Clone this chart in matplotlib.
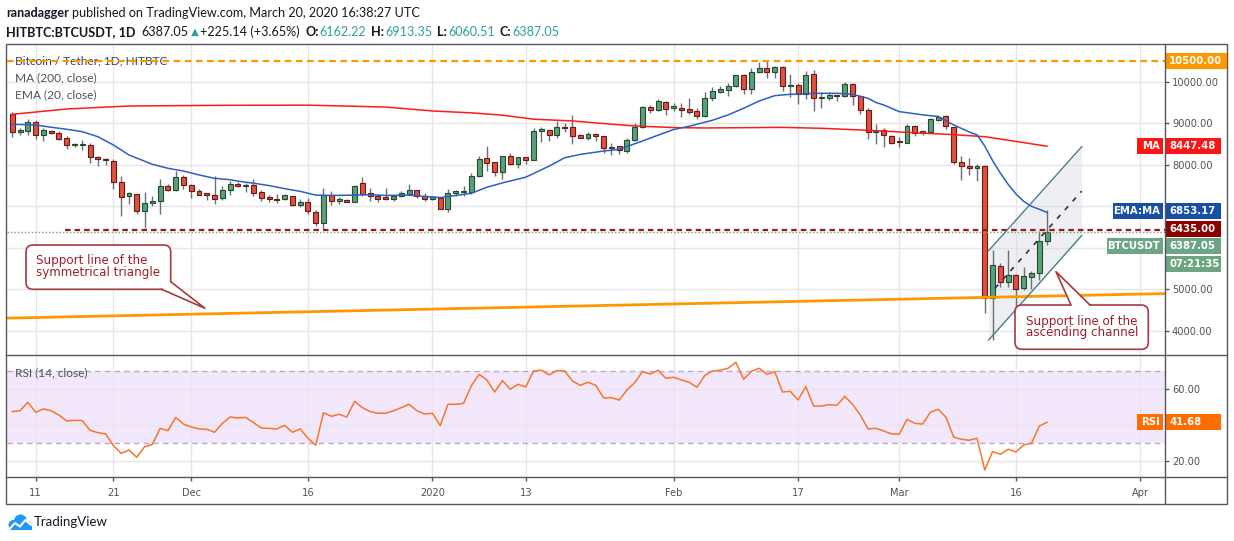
import numpy as np
import pandas as pd
import matplotlib
matplotlib.use("Agg")
import matplotlib.pyplot as plt
import matplotlib.dates as mdates
from matplotlib.patches import Rectangle, FancyBboxPatch, Polygon, Circle

W, H = 1234, 541

# daily candles, Nov 8 2019 .. Mar 20 2020
dates = pd.date_range("2019-11-08", "2020-03-20", freq="D")
opens = [9218, 8800, 8806, 9032, 8726, 8806, 8774, 8645, 8476, 8484,
         8484, 8185, 8137, 8081, 7597, 7258, 7306, 6895, 7089, 7137,
         7500, 7395, 7718, 7524, 7379, 7290, 7282, 7190, 7385, 7533,
         7484, 7516, 7336, 7213, 7188, 7188, 7238, 7041, 7115, 6869,
         6598, 7262, 7139, 7164, 7115, 7557, 7311, 7246, 7190, 7188,
         7238, 7303, 7385, 7246, 7188, 7201, 6943, 7331, 7339, 7339,
         7734, 8153, 8056, 7815, 8202, 8008, 8177, 8105, 8823, 8839,
         8710, 8911, 8911, 8718, 8653, 8742, 8685, 8403, 8444, 8331,
         8589, 8911, 9395, 9315, 9516, 9376, 9376, 9344, 9296, 9184,
         9600, 9760, 9808, 9888, 10160, 9832, 10224, 10320, 10224, 10352,
         9904, 9912, 9696, 10176, 9600, 9600, 9688, 9648, 9936, 9648,
         9312, 8784, 8832, 8688, 8556, 8532, 8935, 8774, 8782, 9081,
         9185, 8903, 8056, 7968, 7919, 7968, 4790, 5565, 5169, 5355,
         5024, 5306, 5395, 6162.22]
highs = [9274, 8880, 9113, 9080, 8887, 8839, 8823, 8694, 8532, 8597,
         8532, 8210, 8161, 8129, 7726, 7339, 7306, 7355, 7242, 7661,
         7548, 7847, 7750, 7540, 7419, 7298, 7742, 7484, 7615, 7574,
         7557, 7664, 7393, 7270, 7287, 7287, 7254, 7180, 7205, 6918,
         7443, 7369, 7229, 7172, 7516, 7697, 7434, 7303, 7434, 7270,
         7369, 7541, 7393, 7311, 7238, 7226, 7419, 7387, 7484, 7798,
         8210, 8452, 8056, 8202, 8290, 8177, 8177, 8887, 8911, 8839,
         9056, 9000, 9210, 8734, 8798, 8774, 8702, 8524, 8460, 8653,
         9008, 9411, 9444, 9581, 9540, 9488, 9488, 9616, 9376, 9752,
         9872, 9896, 9968, 10160, 10176, 10336, 10472, 10496, 10376, 10376,
         10192, 9968, 10256, 10272, 9744, 9744, 9688, 9984, 9976, 9648,
         9360, 8976, 8896, 8720, 8661, 8984, 8952, 8839, 9121, 9202,
         9202, 8903, 8210, 8161, 8008, 7992, 5952, 5645, 5960, 5371,
         5548, 5452, 6395, 6913.35]
lows = [8677, 8710, 8726, 8613, 8565, 8742, 8597, 8387, 8435, 8347,
        8048, 7976, 8000, 7419, 6774, 7056, 6822, 6476, 6999, 6806,
        7379, 7379, 7419, 7202, 7266, 7161, 7064, 7161, 7270, 7467,
        7352, 7246, 7123, 7106, 7082, 7156, 7016, 6984, 6811, 6533,
        6443, 7041, 7057, 7098, 7098, 7238, 7123, 7106, 7156, 7123,
        7221, 7270, 7205, 7139, 7156, 6927, 6871, 7250, 7250, 7298,
        7710, 7847, 7726, 7661, 7992, 7911, 8024, 8105, 8556, 8573,
        8653, 8798, 8492, 8637, 8589, 8573, 8290, 8226, 8266, 8282,
        8573, 8895, 9250, 9298, 9194, 9296, 9160, 9216, 9096, 9160,
        9536, 9728, 9664, 9872, 9712, 9712, 10208, 10080, 10096, 9776,
        9632, 9456, 9576, 9296, 9376, 9552, 9536, 9632, 9440, 9232,
        8624, 8512, 8440, 8496, 8435, 8516, 8694, 8718, 8774, 9065,
        8855, 8008, 7645, 7750, 7613, 4427, 3782, 5048, 5048, 4443,
        4984, 5008, 5234, 6060.51]
closes = [8782, 8812, 9032, 8726, 8839, 8758, 8629, 8468, 8484, 8492,
          8177, 8129, 8105, 7597, 7234, 7315, 6895, 7081, 7137, 7500,
          7395, 7718, 7516, 7379, 7282, 7282, 7185, 7385, 7533, 7484,
          7508, 7328, 7205, 7180, 7156, 7270, 7041, 7098, 6893, 6598,
          7262, 7139, 7188, 7115, 7484, 7303, 7246, 7188, 7185, 7238,
          7311, 7393, 7246, 7188, 7200, 6943, 7323, 7339, 7345, 7742,
          8129, 8048, 7815, 8202, 8008, 8177, 8105, 8815, 8831, 8726,
          8911, 8887, 8685, 8653, 8742, 8685, 8411, 8411, 8347, 8589,
          8911, 9395, 9315, 9524, 9331, 9384, 9328, 9280, 9184, 9600,
          9768, 9824, 9896, 10160, 9832, 10224, 10320, 10224, 10352, 9904,
          9912, 9696, 10160, 9600, 9608, 9672, 9648, 9936, 9648, 9312,
          8784, 8800, 8712, 8520, 8546, 8935, 8758, 8782, 9105, 9161,
          8935, 8056, 7968, 7919, 7968, 4790, 5597, 5169, 5355, 5008,
          5331, 5395, 6177, 6387.05]
rsi = [47.6, 48.1, 52.8, 47.2, 49.1, 48.1, 45.7, 42.4, 42.8, 42.6,
       37.2, 35.9, 35.2, 28.7, 24.4, 26.3, 22.2, 28.1, 29.4, 38.3,
       37.0, 44.4, 40.7, 39.1, 38.0, 37.8, 36.1, 41.1, 44.6, 44.1,
       44.4, 41.5, 38.5, 38.3, 38.0, 40.0, 36.1, 38.0, 32.8, 28.9,
       47.0, 45.0, 46.1, 44.6, 53.3, 49.8, 47.6, 46.7, 46.7, 48.1,
       49.8, 51.7, 48.1, 46.3, 46.7, 39.8, 51.7, 51.7, 52.2, 61.9,
       68.3, 65.2, 58.5, 64.8, 60.0, 62.8, 61.3, 70.2, 70.6, 68.0,
       70.4, 70.2, 64.6, 62.2, 63.9, 62.2, 55.2, 55.4, 54.0, 59.6,
       63.7, 69.8, 68.5, 70.6, 66.1, 66.7, 65.2, 63.9, 61.1, 67.6,
       70.2, 70.6, 71.7, 75.0, 65.6, 70.0, 71.7, 68.3, 69.8, 58.5,
       58.9, 54.1, 61.5, 50.7, 50.7, 51.5, 51.1, 56.1, 51.7, 45.7,
       38.0, 38.3, 36.9, 35.2, 35.0, 43.3, 41.1, 40.7, 47.2, 48.9,
       44.6, 33.5, 32.2, 31.7, 32.8, 15.2, 25.4, 23.9, 26.7, 25.2,
       29.1, 30.0, 39.6, 41.68]

# MA(200) and EMA(20)
ma_dates = ["2019-11-08", "2019-11-15", "2019-11-23", "2019-12-06", "2019-12-16",
            "2019-12-26", "2020-01-01", "2020-01-06", "2020-01-10", "2020-01-14",
            "2020-01-19", "2020-01-23", "2020-01-27", "2020-02-01", "2020-02-05",
            "2020-02-15", "2020-02-20", "2020-02-26", "2020-03-01", "2020-03-08",
            "2020-03-12", "2020-03-20"]
ma_vals = [9215, 9343, 9415, 9432, 9435, 9390, 9295, 9250, 9194, 9097,
           9056, 8992, 8935, 8895, 8886, 8900, 8878, 8830, 8790, 8725,
           8676, 8447.48]
ema_dates = ["2019-11-08", "2019-11-11", "2019-11-13", "2019-11-15", "2019-11-17",
             "2019-11-19", "2019-11-21", "2019-11-23", "2019-11-26", "2019-11-28",
             "2019-11-30", "2019-12-02", "2019-12-04", "2019-12-06", "2019-12-07",
             "2019-12-09", "2019-12-11", "2019-12-13", "2019-12-15", "2019-12-17",
             "2019-12-19", "2019-12-22", "2019-12-24", "2019-12-26", "2019-12-29",
             "2019-12-31", "2020-01-02", "2020-01-03", "2020-01-06", "2020-01-08",
             "2020-01-10", "2020-01-13", "2020-01-16", "2020-01-18", "2020-01-20",
             "2020-01-23", "2020-01-25", "2020-01-28", "2020-01-30", "2020-02-01",
             "2020-02-03", "2020-02-06", "2020-02-08", "2020-02-10", "2020-02-12",
             "2020-02-14", "2020-02-16", "2020-02-19", "2020-02-22", "2020-02-24",
             "2020-02-26", "2020-02-27", "2020-02-28", "2020-03-01", "2020-03-04",
             "2020-03-06", "2020-03-08", "2020-03-10", "2020-03-11", "2020-03-12",
             "2020-03-13", "2020-03-14", "2020-03-15", "2020-03-16", "2020-03-17",
             "2020-03-18", "2020-03-19", "2020-03-20"]
ema_vals = [8975, 8958, 8903, 8854, 8797, 8676, 8476, 8236, 8012, 7916,
            7850, 7755, 7675, 7641, 7607, 7557, 7500, 7426, 7361, 7270,
            7262, 7270, 7279, 7262, 7270, 7238, 7213, 7236, 7314, 7460,
            7564, 7702, 7968, 8169, 8250, 8331, 8371, 8573, 8712, 8848,
            8928, 9072, 9200, 9360, 9536, 9664, 9696, 9720, 9720, 9696,
            9600, 9500, 9440, 9280, 9202, 9161, 8960, 8790, 8720, 8450,
            8100, 7800, 7530, 7300, 7120, 7000, 6930, 6853.17]

# drawings
resistance = 10500
level_6435 = 6435
last_price = 6387.05
support_dates = ["2019-11-07 10:00", "2020-04-04 02:00"]
support_vals = [4310, 4900]
channel_dates = ["2020-03-12 12:00", "2020-03-24 11:00"]
channel_low = [3782, 6298]
channel_high = [5935, 8435]

tick_dates = ["2019-11-11", "2019-11-21", "2019-12-01", "2019-12-16", "2020-01-01",
              "2020-01-13", "2020-02-01", "2020-02-17", "2020-03-01", "2020-03-16",
              "2020-04-01"]
tick_labels = ["11", "21", "Dec", "16", "2020", "13", "Feb", "17", "Mar", "16", "Apr"]
price_ticks = [4000, 5000, 6000, 7000, 8000, 9000, 10000]
price_hidden = [6000, 7000]   # covered by the price tags on the chart
rsi_ticks = [20, 40, 60]
rsi_hidden = [40]

UP, UP_EDGE = "#5c9f7b", "#1f4d2e"
DN, DN_EDGE = "#e0503f", "#6a1a14"
WICK = "#6b6e78"
GRID = "#e6e6e6"
AXTXT = "#4c525e"
FRAME = "#55575f"
TEAL = "#2fa295"
AXFONT = "DejaVu Sans"
TXFONT = ["Lato", "DejaVu Sans"]


def P(x, y):
    return x / W, 1 - y / H


fig = plt.figure(figsize=(W / 100, H / 100), dpi=100)
fig.patch.set_facecolor("white")

x0 = mdates.date2num(dates[0]) - 0.68
x1 = x0 + (1165 - 7) / 7.78
tx = mdates.date2num(pd.to_datetime(tick_dates))

ax = fig.add_axes([7 / W, (H - 355) / H, 1158 / W, (355 - 44) / H])
ax_r = fig.add_axes([7 / W, (H - 477) / H, 1158 / W, (477 - 355) / H])

for a in (ax, ax_r):
    for s in a.spines.values():
        s.set_visible(False)
    a.set_xlim(x0, x1)
    a.set_xticks(tx)
    a.grid(True, color=GRID, lw=1, zorder=0)
    a.set_axisbelow(True)

ax.set_ylim(3422, 10907)
ax.set_xticklabels([])
ax.tick_params(axis="x", length=0)
ax.yaxis.tick_right()
ax.set_yticks(price_ticks)
ax.set_yticklabels(["" if v in price_hidden else "%.2f" % v for v in price_ticks],
                   fontfamily=AXFONT, fontsize=7.1, color=AXTXT)
ax.tick_params(axis="y", length=3, width=1, color=FRAME, pad=2)

ax_r.set_ylim(11.28, 79.06)
ax_r.yaxis.tick_right()
ax_r.set_yticks(rsi_ticks)
ax_r.set_yticklabels(["" if v in rsi_hidden else "%.2f" % v for v in rsi_ticks],
                     fontfamily=AXFONT, fontsize=7.1, color=AXTXT)
ax_r.tick_params(axis="y", length=3, width=1, color=FRAME, pad=2)
ax_r.set_xticklabels(tick_labels, fontfamily=AXFONT, fontsize=7.1, color=AXTXT)
ax_r.tick_params(axis="x", length=3, width=1, color=FRAME, pad=5)

# candles
xd = mdates.date2num(dates)
o, h, l, c = map(np.array, (opens, highs, lows, closes))
up = c >= o
ax.vlines(xd, l, h, color=WICK, lw=1, zorder=3)
lo = np.minimum(o, c)
bh = np.maximum(np.abs(c - o), 28)
ax.bar(xd[up], bh[up], bottom=lo[up], width=0.64, color=UP, edgecolor=UP_EDGE, lw=0.8, zorder=4)
ax.bar(xd[~up], bh[~up], bottom=lo[~up], width=0.64, color=DN, edgecolor=DN_EDGE, lw=0.8, zorder=4)

ax.plot(mdates.date2num(pd.to_datetime(ma_dates)), ma_vals, color="#ff1a1a", lw=1.1, zorder=5)
ax.plot(mdates.date2num(pd.to_datetime(ema_dates)), ema_vals, color="#2d5fbf", lw=1.1, zorder=5)

# horizontal levels
ax.axhline(resistance, color="#ff9800", lw=1.6, dashes=(3, 2), zorder=6)
ax.axhline(last_price, color="#6ba583", lw=1, dashes=(1, 1.5), zorder=5)
lv_x0 = mdates.date2num(pd.Timestamp("2019-11-14 18:00"))
ax.hlines(level_6435, lv_x0, x1, color="#9b1b1b", lw=1.6, linestyles=(0, (2.5, 1.8)), zorder=6)

# support line of the triangle
ax.plot(mdates.date2num(pd.to_datetime(support_dates)), support_vals, color="#ff9800", lw=2, zorder=6)

# ascending channel
cx = mdates.date2num(pd.to_datetime(channel_dates))
ax.fill_between(cx, channel_low, channel_high, color="#d8dde6", alpha=0.45, lw=0, zorder=2)
ax.plot(cx, channel_low, color="#4d7e84", lw=1, zorder=6)
ax.plot(cx, channel_high, color="#4d7e84", lw=1, zorder=6)
mid = [(a + b) / 2 for a, b in zip(channel_low, channel_high)]
mx0 = cx[0] + 0.8
mid0 = mid[0] + (mid[1] - mid[0]) * 0.8 / (cx[1] - cx[0])
ax.plot([mx0, cx[1]], [mid0, mid[1]], color="#333333", lw=1.2, dashes=(3, 4), zorder=6)

# RSI
ax_r.axhspan(30, 70, color="#f3e7fc", lw=0, zorder=0.5)
for v in (30, 70):
    ax_r.axhline(v, color="#b8aac8", lw=1, dashes=(4, 3), zorder=1)
ax_r.plot(xd, rsi, color="#f7762a", lw=1.1, zorder=4)

# legend texts
ax.text(*P(15, 61), "Bitcoin / Tether, 1D, HITBTC", transform=fig.transFigure, family=TXFONT,
        fontsize=8.6, color="#3f434c", va="center", zorder=1)
ax.text(*P(15, 78), "MA (200, close)", transform=fig.transFigure, family=TXFONT,
        fontsize=8.6, color=AXTXT, va="center", zorder=1)
ax.text(*P(15, 95), "EMA (20, close)", transform=fig.transFigure, family=TXFONT,
        fontsize=8.6, color=AXTXT, va="center", zorder=1)
ax_r.text(*P(15, 373), "RSI (14, close)", transform=fig.transFigure, family=TXFONT,
          fontsize=8.6, color=AXTXT, va="center", zorder=1)

# overlay in pixel coordinates: frame, tags, callouts, header, logo
ov = fig.add_axes([0, 0, 1, 1], zorder=10)
ov.set_xlim(0, W)
ov.set_ylim(H, 0)
ov.axis("off")

ov.add_patch(Rectangle((6, 44), 1221, 460, fill=False, ec=FRAME, lw=1))
ov.plot([1165, 1165], [44, 504], color=FRAME, lw=1)
ov.plot([6, 1227], [355, 355], color=FRAME, lw=1)
ov.plot([6, 1227], [477, 477], color=FRAME, lw=1)


def ypx(a, val):
    return H - a.transData.transform((x0, val))[1]


def tag(y, text, color, left=None, x_right=1221):
    ov.add_patch(Rectangle((1165, y - 8), x_right - 1165, 16, color=color, lw=0))
    ov.text(1169, y, text, color="white", fontsize=7.3, family=AXFONT,
            fontweight="bold", va="center", ha="left")
    if left is not None:
        lw_ = left[1]
        ov.add_patch(Rectangle((1163 - lw_, y - 8), lw_, 16, color=color, lw=0))
        ov.text(1160, y, left[0], color="white", fontsize=7.3, family=AXFONT,
                fontweight="bold", va="center", ha="right")


tag(ypx(ax, resistance), "10500.00", "#ff9800", x_right=1227)
tag(ypx(ax, ma_vals[-1]), "%.2f" % ma_vals[-1], "#ff1414", left=("MA", 26))
tag(ypx(ax, ema_vals[-1]) - 1, "%.2f" % ema_vals[-1], "#174ea6", left=("EMA:MA", 50))
tag(ypx(ax, level_6435) - 1, "%.2f" % level_6435, "#8b0000")
y_last = ypx(ax, last_price) + 14.5
tag(y_last, "%.2f" % last_price, "#6ba583", left=("BTCUSDT", 56))
tag(y_last + 18, "07:21:35", "#6ba583")
tag(ypx(ax_r, rsi[-1]), "%.2f" % rsi[-1], "#ff6d00", left=("RSI", 26))

# callouts
CE, CT = "#a53a40", "#9c1f28"
ov.add_patch(FancyBboxPatch((26, 245), 144.7, 44.3, boxstyle="round,pad=0,rounding_size=7",
                            fc="white", ec=CE, lw=1.2, zorder=3))
ov.add_patch(Polygon([(161.7, 289.3), (205, 308.3), (170.7, 281.7)], closed=True,
                     fc="white", ec="none", zorder=4))
ov.plot([161.7, 205, 170.7], [289.3, 308.3, 281.7], color=CE, lw=1.2, zorder=5)
ov.text(36, 260.5, "Support line of the", color=CT, fontsize=8.6, family=AXFONT, va="center", zorder=6)
ov.text(36, 272.5, "symmetrical triangle", color=CT, fontsize=8.6, family=AXFONT, va="center", zorder=6)

ov.add_patch(FancyBboxPatch((1015, 305), 133.3, 44.3, boxstyle="round,pad=0,rounding_size=7",
                            fc="white", ec=CE, lw=1.2, zorder=3))
ov.add_patch(Polygon([(1071, 306), (1056, 271.7), (1090, 306)], closed=True,
                     fc="white", ec="none", zorder=4))
ov.plot([1071, 1056, 1090], [305, 271.7, 305], color=CE, lw=1.2, zorder=5)
ov.text(1026, 321, "Support line of the", color=CT, fontsize=8.6, family=AXFONT, va="center", zorder=6)
ov.text(1026, 332.5, "ascending channel", color=CT, fontsize=8.6, family=AXFONT, va="center", zorder=6)

# header, pieces placed one after another using their measured widths
renderer = fig.canvas.get_renderer()


def chain(x, y, pieces):
    for text, color, weight, fam, size, gap in pieces:
        t = ov.text(x, y, text, family=fam, fontsize=size, fontweight=weight, color=color, va="center")
        x += t.get_window_extent(renderer=renderer).width + gap


HS = 9.1
DARK = "#131722"
chain(6, 13, [("ranadagger", DARK, "bold", TXFONT, HS, 3),
              ("published on TradingView.com, March 20, 2020 16:38:27 UTC", DARK, "normal", TXFONT, HS, 0)])
line2 = [("HITBTC:BTCUSDT, 1D", DARK, "bold", TXFONT, HS, 6),
         ("%.2f" % closes[-1], DARK, "normal", TXFONT, HS, 2),
         ("\u25B2", TEAL, "normal", "DejaVu Sans", 7.5, 2),
         ("+225.14 (+3.65%)", DARK, "normal", TXFONT, HS, 5)]
for lab, val in [("O:", opens[-1]), ("H:", highs[-1]), ("L:", lows[-1]), ("C:", closes[-1])]:
    line2.append((lab, DARK, "bold", TXFONT, HS, 1))
    line2.append(("%.2f" % val, TEAL, "normal", TXFONT, HS, 5))
chain(6, 32, line2)

# logo
for cx_, cy_, r_ in [(13.5, 525, 5), (20.5, 521, 6.5), (27, 525.5, 4.5)]:
    ov.add_patch(Circle((cx_, cy_), r_, color="#2196f3", lw=0))
ov.add_patch(Rectangle((8.5, 524), 23, 6, color="#2196f3", lw=0))
ov.plot([9.5, 15, 20, 25.5, 31], [529, 523, 526.5, 520, 525], color="white", lw=1.5, solid_capstyle="round")
ov.text(34, 522.5, "TradingView", family=TXFONT, fontsize=9.5, color=DARK, va="center")

fig.savefig("out.png", dpi=100)
